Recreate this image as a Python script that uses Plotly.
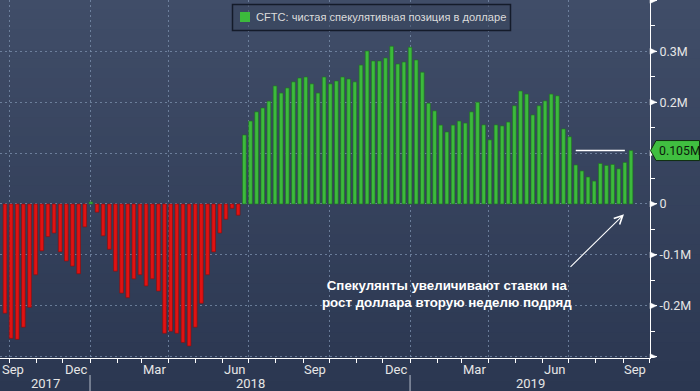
import plotly.graph_objects as go
import pandas as pd

# ---------------- data ----------------
start_date = "2017-09-26"          # first weekly CFTC report in view (Tuesdays)
net_position_m = [
    -0.2145, -0.264, -0.266, -0.242, -0.203, -0.139, -0.092, -0.064, -0.057, -0.094,
    -0.112, -0.122, -0.137, -0.045, 0.004, -0.016, -0.0625, -0.089, -0.132, -0.175,
    -0.184, -0.147, -0.139, -0.161, -0.147, -0.171, -0.254, -0.250, -0.254, -0.272,
    -0.279, -0.242, -0.195, -0.139, -0.094, -0.057, -0.030, -0.0086, -0.022, 0.1356,
    0.163, 0.181, 0.1886, 0.202, 0.232, 0.218, 0.228, 0.240, 0.2475, 0.2495,
    0.236, 0.218, 0.2495, 0.236, 0.2417, 0.2495, 0.2456, 0.240, 0.273, 0.3006,
    0.281, 0.281, 0.2868, 0.310, 0.275, 0.279, 0.308, 0.283, 0.259, 0.198,
    0.183, 0.155, 0.1415, 0.155, 0.163, 0.159, 0.181, 0.200, 0.1554, 0.126,
    0.1554, 0.1534, 0.161, 0.193, 0.222, 0.216, 0.175, 0.193, 0.2026, 0.216,
    0.2125, 0.1475, 0.132, 0.0767, 0.065, 0.053, 0.045, 0.0796, 0.0757, 0.0776,
    0.069, 0.0816, 0.105,
]
dates = pd.date_range(start_date, periods=len(net_position_m), freq="7D")

legend_text = "CFTC: чистая спекулятивная позиция в долларе"
note_text = "Спекулянты увеличивают ставки на<br>рост доллара вторую неделю подряд"
last_label = "0.105M"

month_labels = ["Sep", "Dec", "Mar", "Jun", "Sep", "Dec", "Mar", "Jun", "Sep"]
month_label_dates = ["2017-09-15", "2017-12-16", "2018-03-16", "2018-06-15", "2018-09-15",
                     "2018-12-16", "2019-03-16", "2019-06-15", "2019-09-15"]
year_labels = ["2017", "2018", "2019"]
year_starts = ["2017-01-01", "2018-01-01", "2019-01-01", "2020-01-01"]
quarter_starts = ["2017-10-01", "2018-01-01", "2018-04-01", "2018-07-01", "2018-10-01",
                  "2019-01-01", "2019-04-01", "2019-07-01", "2019-10-01"]
month_starts = pd.date_range("2017-10-01", "2019-10-01", freq="MS")

y_tick_vals = [-0.3, -0.2, -0.1, 0.0, 0.1, 0.2, 0.3, 0.4]
y_tick_text = ["", "-0.2M", "-0.1M", "0", "", "0.2M", "0.3M", ""]
y_minor_vals = [-0.25, -0.15, -0.05, 0.05, 0.15, 0.25, 0.35]

x_range = [pd.Timestamp("2017-09-20 08:00"), pd.Timestamp("2019-10-01 16:00")]
y_range = [-0.3026, 0.4008]
ref_line_dates = ["2019-07-09", "2019-09-03"]

# ---------------- style ----------------
W, H = 700, 391
ML, MR, MT, MB = 0, 50, 0, 33
PW, PH = W - ML - MR, H - MT - MB

GREEN = "rgb(60,186,60)"
GREEN_EDGE = "rgb(30,115,30)"
RED = "rgb(224,18,18)"
RED_EDGE = "rgb(140,12,12)"
GRID = "rgba(125,145,175,0.75)"
TXT = "#e6e6e6"
AXFONT = "Roboto, sans-serif"


def py(px):  # pixel row -> paper y
    return 1 - (px - MT) / PH


def px_x(px):  # pixel column -> paper x
    return (px - ML) / PW


colors = [GREEN if v >= 0 else RED for v in net_position_m]
edges = [GREEN_EDGE if v >= 0 else RED_EDGE for v in net_position_m]

fig = go.Figure()
fig.add_trace(go.Bar(
    x=dates, y=net_position_m, marker=dict(color=colors, line=dict(color=edges, width=0.6)),
    showlegend=False, hoverinfo="x+y",
))

shapes = []
# background gradient
top_c = (64, 77, 104)
bot_c = (43, 55, 81)
n = 40
for i in range(n):
    t = i / (n - 1)
    c = tuple(round(top_c[k] + (bot_c[k] - top_c[k]) * t) for k in range(3))
    shapes.append(dict(type="rect", xref="paper", yref="paper",
                       x0=-0.01, x1=1.1, y0=py(H * (i + 1) / n + 1), y1=py(H * i / n),
                       fillcolor="rgb(%d,%d,%d)" % c, line=dict(width=0), layer="below"))

# right-axis triangle markers at major ticks
tri_h = (y_range[1] - y_range[0]) * 3.0 / PH
for v in y_tick_vals:
    shapes.append(dict(type="path", xref="paper", yref="y",
                       path="M 1 %f L %f %f L 1 %f Z" % (v + tri_h, px_x(PW + 6.5), v, v - tri_h),
                       fillcolor="white", line=dict(color="white", width=0.5)))

# white reference line at last value
last_v = net_position_m[-1]
shapes.append(dict(type="line", xref="x", yref="y", x0=ref_line_dates[0], x1=ref_line_dates[1],
                   y0=last_v, y1=last_v, line=dict(color="white", width=1.5)))

# last value tag (pentagon)
hh = (y_range[1] - y_range[0]) * 10 / PH
shapes.append(dict(type="path", xref="paper", yref="y",
                   path="M %f %f L %f %f L %f %f L %f %f L %f %f Z" % (
                       px_x(PW + 0.5), last_v, px_x(PW + 6), last_v + hh, px_x(PW + 49.5), last_v + hh,
                       px_x(PW + 49.5), last_v - hh, px_x(PW + 6), last_v - hh),
                   fillcolor="rgb(64,190,64)", line=dict(color="rgb(15,45,15)", width=1)))

# year separators
for d in year_starts[1:3]:
    shapes.append(dict(type="line", xref="x", yref="paper", x0=d, x1=d,
                       y0=py(375), y1=py(392), line=dict(color="#b8bfcc", width=1)))

# legend box
shapes.append(dict(type="rect", xref="paper", yref="paper", x0=px_x(232.5), x1=px_x(510.5),
                   y0=py(30.5), y1=py(4.5), fillcolor="rgba(55,67,92,0.5)",
                   line=dict(color="#141b2a", width=1.5)))
shapes.append(dict(type="rect", xref="paper", yref="paper", x0=px_x(240), x1=px_x(250),
                   y0=py(22), y1=py(12), fillcolor=GREEN, line=dict(width=0)))

annotations = []
annotations.append(dict(xref="paper", yref="paper", x=px_x(254), y=py(17.5), xanchor="left",
                        yanchor="middle", text=legend_text, showarrow=False,
                        font=dict(family="Liberation Sans, Arial, sans-serif", size=11.1,
                                  color="#dcdcdc")))
# month labels
for i, (lab, d) in enumerate(zip(month_labels, month_label_dates)):
    if i == 0:
        annotations.append(dict(xref="paper", yref="paper", x=0, xanchor="left", y=py(369.5),
                                yanchor="middle", text=lab, showarrow=False,
                                font=dict(family=AXFONT, size=13, color=TXT)))
    else:
        annotations.append(dict(xref="x", yref="paper", x=d, xanchor="center", y=py(369.5),
                                yanchor="middle", text=lab, showarrow=False,
                                font=dict(family=AXFONT, size=13, color=TXT)))
# year labels centred in visible part of each year
for i, lab in enumerate(year_labels):
    a = max(pd.Timestamp(year_starts[i]), x_range[0])
    b = min(pd.Timestamp(year_starts[i + 1]), x_range[1])
    annotations.append(dict(xref="x", yref="paper", x=a + (b - a) / 2, xanchor="center",
                            y=py(383.5), yanchor="middle", text=lab, showarrow=False,
                            font=dict(family=AXFONT, size=13, color=TXT)))
# last value text
annotations.append(dict(xref="paper", yref="y", x=px_x(PW + 7), y=last_v, xanchor="left",
                        yanchor="middle", text=last_label, showarrow=False,
                        font=dict(family=AXFONT, size=12.3, color="#0c1a0c")))
# note
annotations.append(dict(xref="paper", yref="paper", x=px_x(447), y=py(293.7), xanchor="center",
                        yanchor="middle", text=note_text, showarrow=False, align="center",
                        font=dict(family="Liberation Sans, Arial, sans-serif", size=13.3,
                                  color="white", weight="bold")))
# arrow
annotations.append(dict(xref="x", yref="y", x="2019-09-02", y=-0.0202, ax=-55, ay=54,
                        text="", showarrow=True, arrowhead=5, arrowsize=1.5, arrowwidth=1.1,
                        arrowcolor="white"))

fig.update_layout(
    width=W, height=H, margin=dict(l=ML, r=MR, t=MT, b=MB),
    paper_bgcolor="rgb(43,55,81)", plot_bgcolor="rgba(0,0,0,0)",
    bargap=0.4, showlegend=False, shapes=shapes, annotations=annotations,
    xaxis=dict(type="date", range=x_range, tickvals=quarter_starts, showticklabels=False,
               ticks="outside", ticklen=4, tickcolor="white", showgrid=True, gridcolor=GRID,
               griddash="2px,3px", gridwidth=1, showline=True, linecolor="white", linewidth=1,
               zeroline=False,
               minor=dict(tickvals=list(month_starts), ticks="outside", ticklen=4,
                          tickcolor="white", showgrid=False)),
    yaxis=dict(side="right", range=y_range, tickvals=y_tick_vals, ticktext=y_tick_text,
               ticks="outside", ticklen=6, tickcolor="white", showgrid=True, gridcolor=GRID,
               griddash="2px,3px", gridwidth=1, zeroline=False, showline=True,
               linecolor="white", linewidth=1,
               tickfont=dict(family=AXFONT, size=12.5, color=TXT),
               minor=dict(tickvals=y_minor_vals, ticks="outside", ticklen=4,
                          tickcolor="white", showgrid=False)),
)

fig.write_html(
    "out.html",
    config={"displayModeBar": False},
    post_script="document.body.style.margin='0';document.body.style.overflow='hidden';",
)
